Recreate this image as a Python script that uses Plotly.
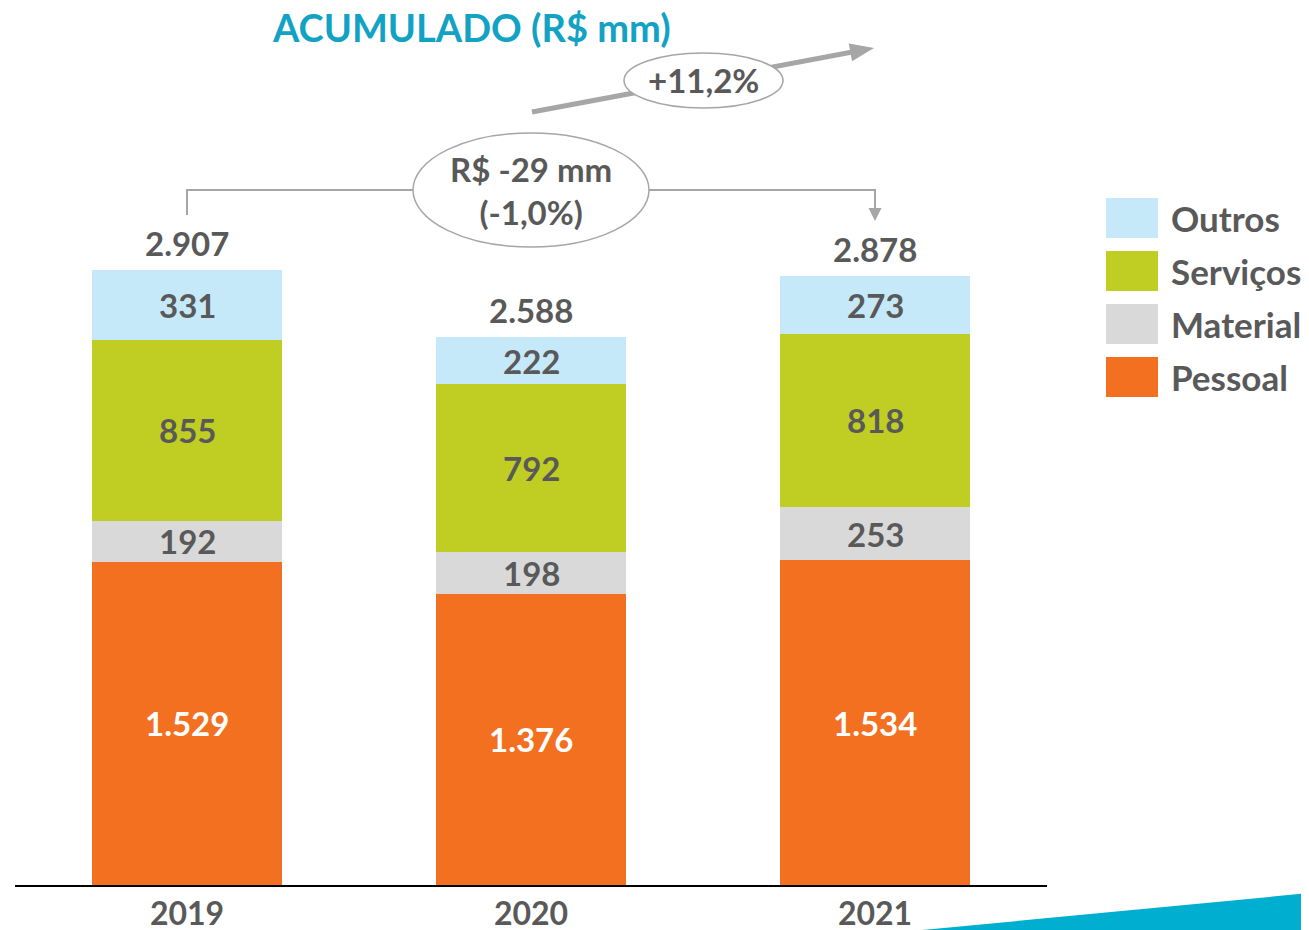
import math
import plotly.graph_objects as go

years = ["2019", "2020", "2021"]
pessoal = [1529, 1376, 1534]
material = [192, 198, 253]
servicos = [855, 792, 818]
outros = [331, 222, 273]
totals = [2907, 2588, 2878]
total_labels = ["2.907", "2.588", "2.878"]
pessoal_labels = ["1.529", "1.376", "1.534"]
variation_text = "+11,2%"
bracket_text = "R$ -29 mm<br>(-1,0%)"

series = [
    ("Pessoal", pessoal, "#F37021", "white"),
    ("Material", material, "#D9D9D9", "#595959"),
    ("Serviços", servicos, "#C0CD22", "#595959"),
    ("Outros", outros, "#C5E9F9", "#595959"),
]

OFF = 8  # default page body margin
W, H = 1309 - OFF, 930 - OFF
# plot area in screen pixels: x 15..1047, y 8..885
SX0, SX1, SY0, SY1 = 15, 1047, 8, 885
L = SX0 - OFF
T = SY0 - OFF
PW = SX1 - SX0
PH = SY1 - SY0
R = W - L - PW
B = H - T - PH
PX_PER_UNIT = 615 / 2907.0
YMAX = PH / PX_PER_UNIT

def px_x(px):  # screen pixel -> category data coordinate
    return (px - SX0) / (PW / 3.0) - 0.5

def px_y(py):  # screen pixel -> data value
    return (SY1 - py) / PX_PER_UNIT

def paper_x(px):
    return (px - SX0) / PW

def paper_y(py):
    return (SY1 - py) / PH

FONT = "Lato"
GRAY = "#595959"
LINE_GRAY = "#A6A6A6"
NUM_SIZE = 33

fig = go.Figure()
for name, vals, color, tcolor in series:
    fig.add_trace(go.Bar(x=years, y=vals, name=name, marker=dict(color=color, line=dict(width=0)),
                         width=0.555, showlegend=False, hoverinfo="x+y+name"))

annotations = []
shapes = []

# segment labels
base = [0, 0, 0]
for name, vals, color, tcolor in series:
    for i, v in enumerate(vals):
        txt = pessoal_labels[i] if name == "Pessoal" else str(v)
        annotations.append(dict(x=i, y=base[i] + v / 2.0, text="<b>%s</b>" % txt, showarrow=False,
                                xanchor="center", yanchor="middle",
                                font=dict(family=FONT, size=NUM_SIZE, color=tcolor), xref="x", yref="y"))
        base[i] += v

# total labels
for i, t in enumerate(totals):
    annotations.append(dict(x=i, y=t, text="<b>%s</b>" % total_labels[i], showarrow=False,
                            xanchor="center", yanchor="middle",
                            yshift=27, font=dict(family=FONT, size=NUM_SIZE, color=GRAY), xref="x", yref="y"))

# bracket lines
yb = px_y(190)
shapes.append(dict(type="path", xref="x", yref="y",
                   path="M 0,%f L 0,%f L 2,%f L 2,%f" % (px_y(215), yb, yb, px_y(205)),
                   line=dict(color=LINE_GRAY, width=2)))
annotations.append(dict(x=2, y=px_y(221), ax=2, ay=px_y(200), xref="x", yref="y", axref="x", ayref="y",
                        text="", showarrow=True, arrowhead=2, arrowsize=1.3, arrowwidth=2, arrowcolor=LINE_GRAY))
shapes.append(dict(type="circle", xref="x", yref="y", x0=px_x(413), x1=px_x(649), y0=px_y(247), y1=px_y(133),
                   fillcolor="white", line=dict(color=LINE_GRAY, width=1.5)))
annotations.append(dict(x=1, y=px_y(190), text="<b>%s</b>" % bracket_text, showarrow=False, xref="x", yref="y",
                        xanchor="center", yanchor="middle",
                        font=dict(family=FONT, size=33, color=GRAY)))

# growth arrow (line + triangle head as shapes so the ellipse can cover it)
sx, sy = 532.0, 112.0
tx, ty = 874.0, 48.0
dx, dy = tx - sx, ty - sy
ln = math.hypot(dx, dy)
ux, uy = dx / ln, dy / ln
nx, ny = -uy, ux
hl, hw = 24.0, 9.0
bx, by = tx - hl * ux, ty - hl * uy
shapes.append(dict(type="line", xref="x", yref="y", x0=px_x(sx), y0=px_y(sy), x1=px_x(bx + 2 * ux), y1=px_y(by + 2 * uy),
                   line=dict(color=LINE_GRAY, width=5)))
shapes.append(dict(type="path", xref="x", yref="y",
                   path="M %f,%f L %f,%f L %f,%f Z" % (px_x(tx), px_y(ty), px_x(bx + hw * nx), px_y(by + hw * ny),
                                                      px_x(bx - hw * nx), px_y(by - hw * ny)),
                   fillcolor=LINE_GRAY, line=dict(width=0)))
shapes.append(dict(type="circle", xref="x", yref="y", x0=px_x(624), x1=px_x(783), y0=px_y(108), y1=px_y(53),
                   fillcolor="white", line=dict(color=LINE_GRAY, width=1.5)))
annotations.append(dict(x=px_x(703), y=px_y(80), text="<b>%s</b>" % variation_text, showarrow=False, xref="x", yref="y",
                        xanchor="center", yanchor="middle",
                        font=dict(family=FONT, size=33, color=GRAY)))

# title
annotations.append(dict(x=paper_x(471), y=paper_y(27), xref="paper", yref="paper", text="<b>ACUMULADO (R$ mm)</b>",
                        xanchor="center", yanchor="middle",
                        showarrow=False, font=dict(family=FONT, size=38, color="#12A2C4")))

# legend (drawn)
legend_rows = [("Outros", "#C5E9F9", 198), ("Serviços", "#C0CD22", 251), ("Material", "#D9D9D9", 304), ("Pessoal", "#F37021", 357)]
for name, color, top in legend_rows:
    shapes.append(dict(type="rect", xref="paper", yref="paper", x0=paper_x(1106), x1=paper_x(1158),
                       y0=paper_y(top + 40), y1=paper_y(top), fillcolor=color, line=dict(width=0)))
    annotations.append(dict(x=paper_x(1169), y=paper_y(top + 20), xref="paper", yref="paper", xanchor="left",
                            yanchor="middle",
                            text="<b>%s</b>" % name, showarrow=False, font=dict(family=FONT, size=35, color=GRAY)))

# decorative swoosh
shapes.append(dict(type="path", xref="paper", yref="paper",
                   path="M %f,%f L %f,%f L %f,%f Z" % (paper_x(912), paper_y(931), paper_x(1310), paper_y(893),
                                                      paper_x(1310), paper_y(931)),
                   fillcolor="#00AFCF", line=dict(width=0)))

fig.update_layout(
    width=W, height=H, barmode="stack",
    margin=dict(l=L, r=R, t=T, b=B, pad=0, autoexpand=False),
    plot_bgcolor="white", paper_bgcolor="white",
    annotations=annotations, shapes=shapes,
    xaxis=dict(type="category", range=[-0.5, 2.5], showline=True, linecolor="black", linewidth=2, ticks="",
               tickfont=dict(family=FONT, size=32, color=GRAY), showgrid=False, zeroline=False,
               fixedrange=True, automargin=False, ticklabelstandoff=0,
               tickvals=years, ticktext=["<b>%s</b>" % y for y in years]),
    yaxis=dict(range=[0, YMAX], visible=False, showgrid=False, zeroline=False, fixedrange=True, automargin=False),
    showlegend=False,
)

fig.write_html("out.html")
